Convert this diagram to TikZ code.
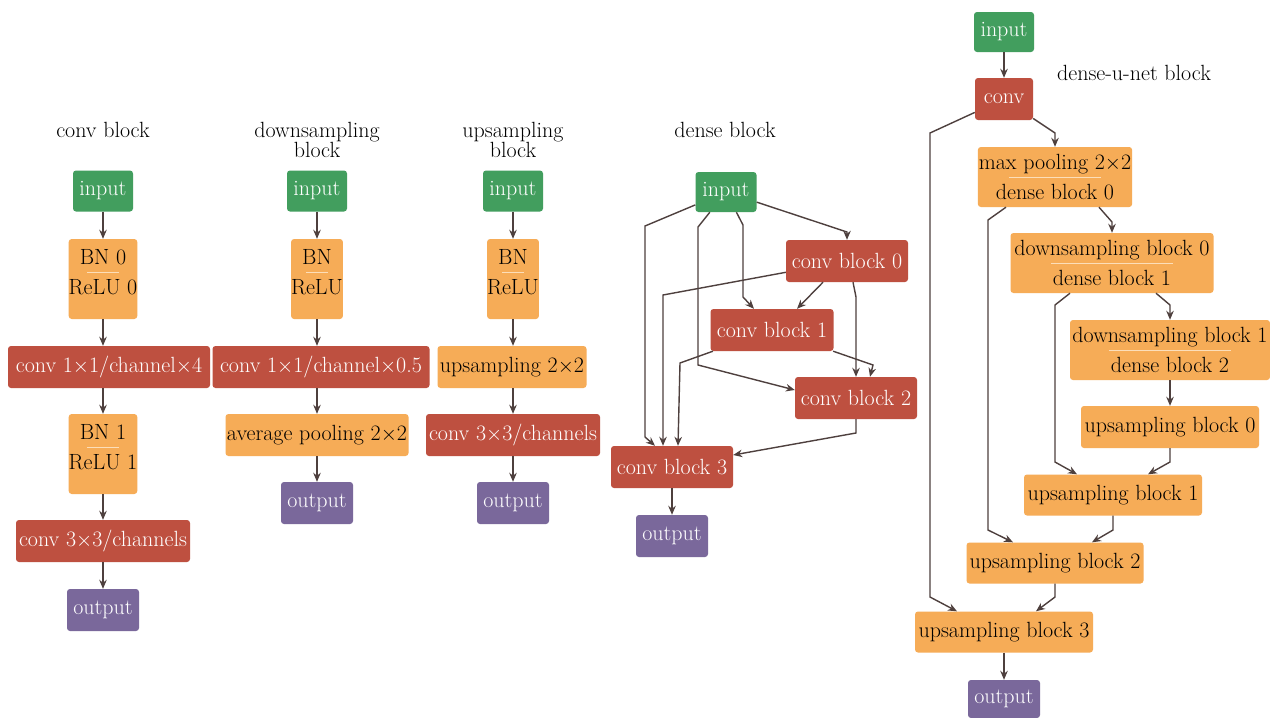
\documentclass[tikz,border=0pt]{standalone}
\usepackage{fontspec}
\usepackage{xcolor}
\definecolor{mygreen}{RGB}{66,158,94}
\definecolor{myorange}{RGB}{246,172,87}
\definecolor{myred}{RGB}{190,80,64}
\definecolor{mypurple}{RGB}{122,104,155}
\definecolor{myarrow}{RGB}{78,64,62}
\definecolor{divline}{RGB}{252,222,185}
\usepackage{tikz}
\usetikzlibrary{arrows.meta,positioning}
\tikzstyle{box}=[rectangle,rounded corners=3pt,inner sep=1pt,minimum height=42pt,align=center,font=\fontsize{22}{14}\selectfont]
\tikzstyle{inbox}=[box,fill=mygreen,text=white,minimum width=60pt,minimum height=41pt]
\tikzstyle{redbox}=[box,fill=myred,text=white]
\tikzstyle{orbox}=[box,fill=myorange,text=black]
\tikzstyle{outbox}=[box,fill=mypurple,text=white,minimum width=72pt]
\tikzstyle{title}=[align=center,font=\fontsize{22}{14}\selectfont]
\tikzstyle{conn}=[draw=myarrow,line width=1.4pt,-{Stealth[length=9pt,width=7.5pt]}]
\newcommand{\divider}[1]{\\[-6pt]\textcolor{divline}{\rule{#1}{0.8pt}}\\[6pt]}
\newcommand{\bnstrut}{\rule[-14pt]{0pt}{14pt}}

\begin{document}
\begin{tikzpicture}[x=1pt,y=-1pt]
\fill[white] (0,0) rectangle (1270,718);
\useasboundingbox (0,0) rectangle (1270,718);
% conv block
\node[title] (t1) at (103,130) {conv block};
\node[inbox] (c1in) at (103,191) {input};
\node[orbox,inner xsep=0pt,minimum width=65pt,minimum height=80pt] (c1bn0) at (103,279) {BN 0\divider{32pt}ReLU 0\bnstrut};
\node[redbox,minimum width=202pt] (c1cv0) at (109,367) {conv 1$\times$1/channel$\times$4};
\node[orbox,inner xsep=0pt,minimum width=65pt,minimum height=80pt] (c1bn1) at (103,454) {BN 1\divider{32pt}ReLU 1\bnstrut};
\node[redbox,minimum width=174pt] (c1cv1) at (103,541) {conv 3$\times$3/channels};
\node[outbox] (c1out) at (103,610) {output};
\draw[conn] (c1in) -- (c1bn0);
\draw[conn] (c1bn0.south) -- (c1bn0.south |- c1cv0.north);
\draw[conn] (c1bn1.north |- c1cv0.south) -- (c1bn1.north);
\draw[conn] (c1bn1) -- (c1cv1);
\draw[conn] (c1cv1) -- (c1out);
% downsampling block
\node[title] (t2) at (317,140) {downsampling\\block};
\node[inbox] (c2in) at (317,191) {input};
\node[orbox,inner xsep=0pt,minimum width=50pt,minimum height=80pt] (c2bn) at (317,279) {BN\divider{22pt}ReLU\bnstrut};
\node[redbox,minimum width=217pt] (c2cv) at (321,367) {conv 1$\times$1/channel$\times$0.5};
\node[orbox,minimum width=183pt] (c2pool) at (317,435) {average pooling 2$\times$2};
\node[outbox] (c2out) at (317,503) {output};
\draw[conn] (c2in) -- (c2bn);
\draw[conn] (c2bn.south) -- (c2bn.south |- c2cv.north);
\draw[conn] (c2pool.north |- c2cv.south) -- (c2pool.north);
\draw[conn] (c2pool) -- (c2out);
% upsampling block
\node[title] (t3) at (513,140) {upsampling\\block};
\node[inbox] (c3in) at (513,191) {input};
\node[orbox,inner xsep=0pt,minimum width=51pt,minimum height=80pt] (c3bn) at (513,279) {BN\divider{22pt}ReLU\bnstrut};
\node[orbox,minimum width=149pt] (c3up) at (512,367) {upsampling 2$\times$2};
\node[redbox,minimum width=174pt] (c3cv) at (513,435) {conv 3$\times$3/channels};
\node[outbox] (c3out) at (513,503) {output};
\draw[conn] (c3in) -- (c3bn);
\draw[conn] (c3bn.south) -- (c3bn.south |- c3up.north);
\draw[conn] (c3cv.north |- c3up.south) -- (c3cv.north);
\draw[conn] (c3cv) -- (c3out);
% dense block
\node[title] (t4) at (725,130) {dense block};
\node[inbox,minimum width=61pt,minimum height=40pt] (din) at (726,192) {input};
\node[redbox,minimum width=122pt] (db0) at (847,261) {conv block 0};
\node[redbox,minimum width=123pt] (db1) at (772,330) {conv block 1};
\node[redbox,minimum width=122pt] (db2) at (856,398) {conv block 2};
\node[redbox,minimum width=122pt] (db3) at (672,467) {conv block 3};
\node[outbox] (dout) at (672,536) {output};
\draw[conn] (din) -- (645,226) -- (645,437) -- ([xshift=-17pt]db3.north);
\draw[conn] (din) -- (698,227) -- (698,365) -- ([yshift=8pt]db2.west);
\draw[conn] (din) -- (743,225) -- (743,297) -- ([xshift=-18pt]db1.north);
\draw[conn] (din) -- (847,232) -- (db0.north);
\draw[conn] (db0) -- (663,295) -- ([xshift=-9pt]db3.north);
\draw[conn] ([xshift=-24pt]db0.south) -- ([xshift=25pt]db1.north);
\draw[conn] ([xshift=6pt]db0.south) -- (856,297) -- (db2.north);
\draw[conn] (db1) -- (680,363) -- ([xshift=6pt]db3.north);
\draw[conn] (db1) -- (873,365) -- ([xshift=14pt]db2.north);
\draw[conn] (db2.south) -- (856,433) -- ([yshift=12pt]db3.east);
\draw[conn] (db3) -- (dout);
% dense-u-net block
\node[title] (t5) at (1134,73) {dense-u-net block};
\node[inbox,minimum height=40pt] (uin) at (1004,32) {input};
\node[redbox,minimum width=58pt] (uconv) at (1004,99) {conv};
\node[orbox,minimum width=154pt,minimum height=60pt] (upool) at (1055,177) {max pooling 2$\times$2\divider{92pt}dense block 0};
\node[orbox,minimum width=203pt,minimum height=60pt] (udown0) at (1112,263) {downsampling block 0\divider{122pt}dense block 1};
\node[orbox,minimum width=200pt,minimum height=60pt] (udown1) at (1170,350) {downsampling block 1\divider{122pt}dense block 2};
\node[orbox,minimum width=178pt] (uup0) at (1170,427) {upsampling block 0};
\node[orbox,minimum width=178pt,minimum height=41pt] (uup1) at (1113,495) {upsampling block 1};
\node[orbox,minimum width=177pt,minimum height=41pt] (uup2) at (1055,563) {upsampling block 2};
\node[orbox,minimum width=178pt,minimum height=41pt] (uup3) at (1004,632) {upsampling block 3};
\node[outbox,minimum height=38pt] (uout) at (1004,699) {output};
\draw[conn] (uin) -- (uconv);
\draw[conn] (uconv) -- (1055,133) -- (upool.north);
\draw[conn] (uconv) -- (930,133) -- (930,597) -- ([xshift=-47pt]uup3.north);
\draw[conn] ([xshift=44pt]upool.south) -- (1112,222) -- (udown0.north);
\draw[conn] ([xshift=-49pt]upool.south) -- (988,220) -- (988,530) -- ([xshift=-42pt]uup2.north);
\draw[conn] ([xshift=44pt]udown0.south) -- (1170,305) -- (udown1.north);
\draw[conn] ([xshift=-42pt]udown0.south) -- (1055,305) -- (1055,462) -- ([xshift=-36pt]uup1.north);
\draw[conn] (udown1) -- (uup0);
\draw[conn] (uup0.south) -- (1170,462) -- ([xshift=35pt]uup1.north);
\draw[conn] (uup1.south) -- (1113,530) -- ([xshift=37pt]uup2.north);
\draw[conn] (uup2.south) -- (1055,597) -- ([xshift=32pt]uup3.north);
\draw[conn] (uup3) -- (uout);
\end{tikzpicture}
\end{document}
